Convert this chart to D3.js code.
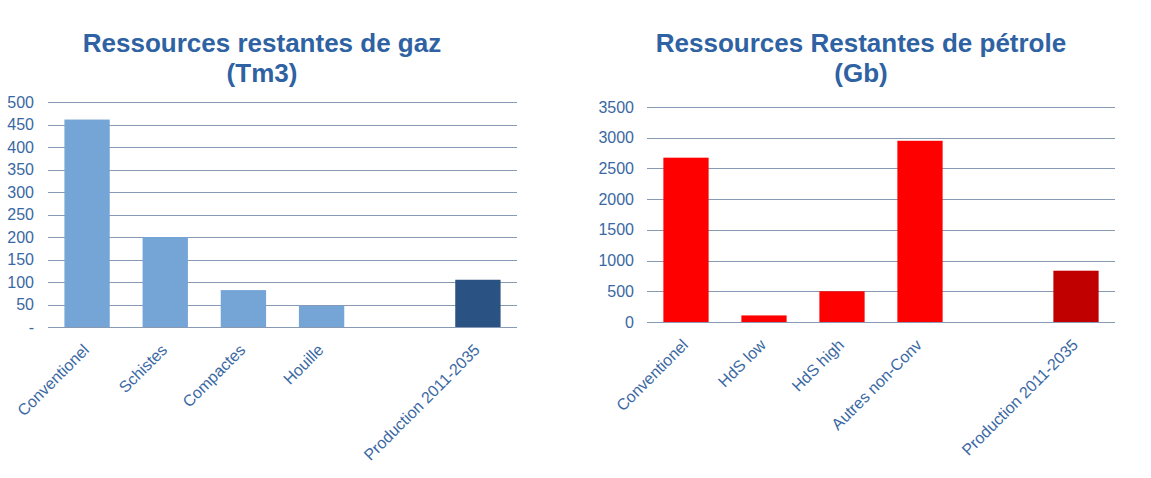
<!DOCTYPE html>
<html><head><meta charset="utf-8">
<script src="https://cdn.jsdelivr.net/npm/d3@7"></script>
<style>body{margin:0;background:#fff}svg{display:block;font-family:"Liberation Sans",Arial,sans-serif}</style>
</head><body>
<svg id="c" width="1151" height="478"></svg>
<script>
const gazCategories = ["Conventionel","Schistes","Compactes","Houille","","Production 2011-2035"];
const gazValues = [461, 200, 82, 47, null, 105];
const gazTicks = [0,50,100,150,200,250,300,350,400,450,500];
const petroleCategories = ["Conventionel","HdS low","HdS high","Autres non-Conv","","Production 2011-2035"];
const petroleValues = [2675, 107, 500, 2950, null, 835];
const petroleTicks = [0,500,1000,1500,2000,2500,3000,3500];

const svg = d3.select("#c");
const titleColor = "#2E62A2", labelColor = "#3A68A3", gridColor = "#8899B3";

function chart(opt){
  const g = svg.append("g");
  const x = d3.scaleBand().domain(opt.cats.map((c,i)=>i)).range(opt.xr).paddingInner(0.42).paddingOuter(0.21);
  const y = d3.scaleLinear().domain([0, opt.max]).range(opt.yr);
  // gridlines
  g.append("g").selectAll("line").data(opt.ticks).join("line")
    .attr("x1", opt.xr[0]).attr("x2", opt.xr[1])
    .attr("y1", d=>Math.round(y(d))+0.5).attr("y2", d=>Math.round(y(d))+0.5)
    .attr("stroke", gridColor).attr("stroke-width", 1);
  // y tick labels
  const yAxis = d3.axisLeft(y).tickValues(opt.ticks).tickSize(0).tickPadding(0).tickFormat(opt.fmt);
  const ya = g.append("g").attr("transform", `translate(${opt.labelX},0)`).call(yAxis);
  ya.select(".domain").remove();
  ya.selectAll("text").attr("fill", labelColor).style("font-size","16px").style("font-family","Liberation Sans, Arial, sans-serif");
  // bars
  g.append("g").selectAll("rect").data(opt.vals.map((v,i)=>({v,i})).filter(d=>d.v!=null)).join("rect")
    .attr("x", d=>x(d.i)).attr("width", x.bandwidth())
    .attr("y", d=>y(d.v)).attr("height", d=>y(0)-y(d.v))
    .attr("fill", d=> d.i===opt.cats.length-1 ? opt.dark : opt.color);
  // x labels
  const xAxis = d3.axisBottom(x).tickSize(0).tickPadding(0).tickFormat(i=>opt.cats[i]);
  const xa = g.append("g").attr("transform", `translate(0,${opt.yr[0]})`).call(xAxis);
  xa.select(".domain").remove();
  xa.selectAll("text").attr("fill", labelColor).style("font-size","16px").style("font-family","Liberation Sans, Arial, sans-serif")
    .attr("text-anchor","end").attr("x",0).attr("y",0).attr("dy",0)
    .attr("transform","translate(3,24) rotate(-45)");
  // title
  const t = g.append("text").attr("x", opt.tx).attr("text-anchor","middle")
    .attr("fill", titleColor).style("font-weight","bold").style("font-size","26px");
  t.append("tspan").attr("x", opt.tx).attr("y", opt.ty).text(opt.title[0]);
  t.append("tspan").attr("x", opt.tx).attr("y", opt.ty+30).text(opt.title[1]);
}

chart({cats: gazCategories, vals: gazValues, ticks: gazTicks, max: 500, xr:[48,517], yr:[327,102],
  labelX: 34, color:"#75A5D7", dark:"#2A5384", fmt: d=> d===0 ? "-" : d,
  title:["Ressources restantes de gaz","(Tm3)"], tx: 262, ty: 52});
chart({cats: petroleCategories, vals: petroleValues, ticks: petroleTicks, max: 3500, xr:[647,1115], yr:[322,107],
  labelX: 634, color:"#FF0000", dark:"#C00000", fmt: d=>d,
  title:["Ressources Restantes de pétrole","(Gb)"], tx: 861, ty: 52});
</script>
</body></html>
